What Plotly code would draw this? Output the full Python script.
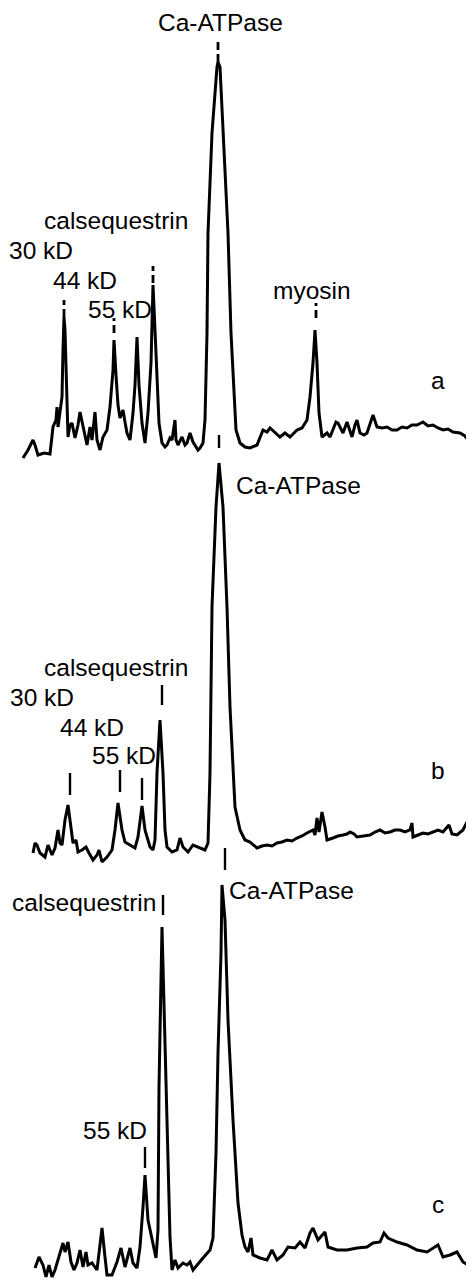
import plotly.graph_objects as go

# ---------------- data: densitometric scans (position, optical density) -------------
a_pos = [23,28,33,35,38,44,50,53,56,57,58,60,62,63,64,65,66,68,70,72,75,78,80,83,85,87,90,92,95,97,
         100,103,107,110,113,114,116,118,120,123,125,127,130,133,135,137,139,142,145,148,151,153,155,157,159,
         162,165,167,170,172,175,176,178,182,185,187,190,193,195,198,200,203,205,207,208,212,217,218,220,223,
         228,231,234,236,240,245,250,257,263,267,270,275,280,285,290,297,302,307,310,313,315,317,319,322,327,
         330,333,336,338,343,347,350,352,355,357,360,364,367,373,377,382,387,392,397,402,407,412,417,423,428,
         433,438,443,448,453,460,465,468]
a_od = [2,10,20,15,5,7,6,33,40,53,33,50,63,110,143,130,90,23,35,37,22,35,48,33,23,15,33,20,48,20,
        10,23,30,53,90,120,85,55,42,50,38,27,20,47,75,123,75,37,17,47,97,175,130,85,37,
        17,13,15,22,20,40,20,15,23,15,17,27,18,15,10,12,17,40,127,227,327,393,398,393,327,
        227,127,60,30,17,13,12,15,30,28,32,27,23,27,23,30,32,40,63,97,130,97,47,23,27,
        23,30,38,37,27,38,30,23,35,40,27,25,27,45,33,32,33,30,30,33,32,35,35,38,34,
        35,32,30,31,28,27,24,20]

b_pos = [33,35,37,40,45,48,52,55,58,60,62,65,68,71,73,76,78,82,86,89,93,97,99,102,107,112,115,118,122,125,
         130,135,138,142,145,150,153,155,157,160,163,165,167,172,177,180,183,188,193,200,205,208,210,212,216,
         219,223,227,230,235,240,245,250,257,262,267,272,277,282,287,292,297,302,307,313,315,317,319,322,325,
         327,333,338,343,347,350,354,357,363,370,375,380,385,390,395,400,405,410,412,413,418,423,428,433,438,
         443,449,452,457,463,468,473]
b_od = [12,22,20,12,8,20,10,17,35,22,20,45,60,38,22,25,13,15,18,12,5,10,15,3,8,15,35,62,35,23,
        20,17,28,59,35,18,15,25,92,145,92,35,18,13,15,27,18,13,20,17,15,22,92,258,358,
        402,358,258,158,58,35,25,23,17,19,20,19,22,23,25,24,27,29,32,35,30,47,33,53,38,
        25,27,29,30,31,33,31,28,29,30,33,35,32,33,35,35,33,35,42,28,30,32,31,33,35,
        33,40,31,30,35,45,47]

c_pos = [35,39,43,46,49,52,55,58,63,65,68,71,74,77,80,83,86,88,92,97,100,102,105,107,112,117,121,125,130,133,
         137,140,143,145,148,153,156,158,159,162,166,170,172,175,178,183,187,190,193,197,203,210,213,216,218,
         221,222,225,228,233,238,242,245,248,251,253,260,267,272,277,283,288,295,300,305,310,313,318,325,328,
         337,347,357,367,373,380,384,388,397,407,417,427,433,438,443,450,457,463,468,472]
c_od = [16,27,19,7,19,7,14,24,41,32,42,22,14,21,34,17,32,19,21,14,37,56,27,9,9,22,36,17,36,21,
        16,37,77,109,64,41,26,54,197,357,197,47,14,24,16,21,19,22,14,19,26,34,46,131,231,
        331,399,364,264,164,81,49,37,32,46,29,26,24,34,24,29,37,36,42,36,51,56,44,52,37,
        34,34,36,37,41,42,51,46,42,39,34,32,36,39,27,29,32,22,19,21]

# ---------------- band labels: (text, position, od) per scan ----------------
a_labels = ["Ca-ATPase", "calsequestrin", "30 kD", "44 kD", "55 kD", "myosin", "a"]
a_lab_x = [220, 116, 41, 85, 120, 312, 438]
a_lab_y = [438, 240, 210, 180, 151, 170, 80]
a_tick_x = [218, 64, 114, 153, 316]
a_tick_y0 = [398, 143, 127, 177, 142]
a_tick_y1 = [422, 160, 142, 194, 157]

b_labels = ["Ca-ATPase", "calsequestrin", "30 kD", "44 kD", "55 kD", "b"]
b_lab_x = [298, 116, 42, 92, 124, 438]
b_lab_y = [380, 198, 168, 138, 110, 95]
b_tick_x = [219, 70, 120, 142, 162]
b_tick_y0 = [417, 70, 73, 65, 160]
b_tick_y1 = [430, 92, 95, 87, 180]

c_labels = ["calsequestrin", "Ca-ATPase", "55 kD", "c"]
c_lab_x = [84, 291, 115, 438]
c_lab_y = [382, 394, 154, 80]
c_tick_x = [163, 225, 145]
c_tick_y0 = [369, 414, 116]
c_tick_y1 = [389, 436, 137]

# ---------------- figure ----------------
# the page body has an 8 px margin, so the figure is 8 px smaller on each axis
PAD = 8
W, H = 474 - PAD, 1284 - PAD
FONT = "Liberation Sans, Arial, Helvetica, sans-serif"
fig = go.Figure()

panels = [
    ("y", a_pos, a_od, a_labels, a_lab_x, a_lab_y, a_tick_x, a_tick_y0, a_tick_y1, "8px,4px"),
    ("y2", b_pos, b_od, b_labels, b_lab_x, b_lab_y, b_tick_x, b_tick_y0, b_tick_y1, "solid"),
    ("y3", c_pos, c_od, c_labels, c_lab_x, c_lab_y, c_tick_x, c_tick_y0, c_tick_y1, "solid"),
]

for yref, xs, ys, labs, lx, ly, tx, ty0, ty1, dash in panels:
    fig.add_trace(go.Scatter(x=xs, y=ys, mode="lines", yaxis=yref,
                             line=dict(color="black", width=3),
                             hoverinfo="skip", showlegend=False))
    for t, x, y in zip(labs, lx, ly):
        fig.add_annotation(x=x, y=y, xref="x", yref=yref, text=t, showarrow=False,
                           xanchor="center", yanchor="middle",
                           font=dict(family=FONT, size=24.5, color="black"))
    for x, y0, y1 in zip(tx, ty0, ty1):
        fig.add_shape(type="line", xref="x", yref=yref, x0=x, x1=x, y0=y0, y1=y1,
                      line=dict(color="black", width=2.8 if dash != "solid" else 2.4, dash=dash))

axis_off = dict(visible=False, showgrid=False, zeroline=False, fixedrange=True)
# panel heights (figure px) from the top of the figure down to each scan's zero line
ha, hb = 460 - PAD, 865 - PAD
fig.update_layout(
    width=W, height=H,
    margin=dict(l=0, r=0, t=0, b=0),
    paper_bgcolor="white", plot_bgcolor="rgba(0,0,0,0)",
    xaxis=dict(range=[PAD, 474], domain=[0, 1], **axis_off),
    yaxis=dict(range=[0, ha], domain=[1 - ha / H, 1], anchor="x", **axis_off),
    yaxis2=dict(range=[0, hb], domain=[1 - hb / H, 1], anchor="x", **axis_off),
    yaxis3=dict(range=[0, H], domain=[0, 1], anchor="x", **axis_off),
    showlegend=False,
)

fig.write_html("out.html")
